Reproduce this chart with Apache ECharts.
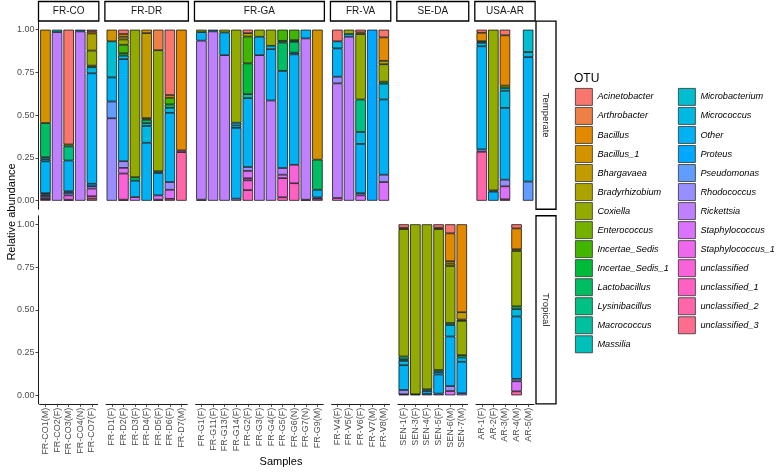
<!DOCTYPE html>
<html><head><meta charset="utf-8">
<script src="https://cdn.jsdelivr.net/npm/echarts@6/dist/echarts.min.js"></script>
<style>html,body{margin:0;padding:0;background:#fff}#c{width:778px;height:472px}</style>
</head><body><div id="c"></div>
<script>
const OTUS = ['Acinetobacter','Arthrobacter','Bacillus','Bacillus_1','Bhargavaea','Bradyrhizobium','Coxiella','Enterococcus','Incertae_Sedis','Incertae_Sedis_1','Lactobacillus','Lysinibacillus','Macrococcus','Massilia','Microbacterium','Micrococcus','Other','Proteus','Pseudomonas','Rhodococcus','Rickettsia','Staphylococcus','Staphylococcus_1','unclassified','unclassified_1','unclassified_2','unclassified_3'];
const FACETS = ['FR-CO','FR-DR','FR-GA','FR-VA','SE-DA','USA-AR'];
const ROWS = ['Temperate','Tropical'];
const Y_TICKS = [0, 0.25, 0.5, 0.75, 1];

const samplesCO = ['FR-CO1(M)','FR-CO2(F)','FR-CO3(M)','FR-CO4(N)','FR-CO7(F)'];
const climateCO = ['Temperate','Temperate','Temperate','Temperate','Temperate'];
const abundCO = [
  {Bacillus_1:0.546, Lactobacillus:0.20, Microbacterium:0.012, Micrococcus:0.012, Other:0.186, Proteus:0.008, Pseudomonas:0.008, Rhodococcus:0.01, Rickettsia:0.009, unclassified:0.009},
  {Massilia:0.014, Rickettsia:0.986},
  {Acinetobacter:0.671, Enterococcus:0.012, Lysinibacillus:0.082, Other:0.18, Proteus:0.01, Rhodococcus:0.014, Staphylococcus_1:0.025, unclassified_3:0.006},
  {Other:0.01, Rickettsia:0.99},
  {Acinetobacter:0.01, Bacillus:0.012, Bradyrhizobium:0.10, Coxiella:0.088, Lactobacillus:0.01, Micrococcus:0.035, Other:0.646, Proteus:0.014, Rhodococcus:0.014, Staphylococcus:0.045, unclassified:0.014, unclassified_3:0.012}
];

const samplesDR = ['FR-D1(F)','FR-D2(F)','FR-D3(F)','FR-D4(F)','FR-D5(F)','FR-D6(F)','FR-D7(M)'];
const climateDR = ['Temperate','Temperate','Temperate','Temperate','Temperate','Temperate','Temperate'];
const abundDR = [
  {Bacillus_1:0.068, Microbacterium:0.211, Other:0.141, Pseudomonas:0.098, Rhodococcus:0.482},
  {Acinetobacter:0.025, Bacillus:0.016, Bradyrhizobium:0.016, Coxiella:0.031, Incertae_Sedis:0.05, Incertae_Sedis_1:0.014, Micrococcus:0.02, Other:0.597, Rhodococcus:0.039, Staphylococcus:0.033, unclassified:0.153, unclassified_3:0.006},
  {Coxiella:0.863, Lactobacillus:0.02, Other:0.096, Staphylococcus:0.021},
  {Bacillus_1:0.02, Bhargavaea:0.497, Enterococcus:0.01, Lactobacillus:0.02, Microbacterium:0.016, Micrococcus:0.098, Other:0.339},
  {Arthrobacter:0.12, Coxiella:0.708, Micrococcus:0.01, Other:0.131, Staphylococcus:0.025, unclassified_3:0.006},
  {Acinetobacter:0.382, Bacillus:0.016, Incertae_Sedis:0.039, Lactobacillus:0.02, Micrococcus:0.029, Other:0.405, Rhodococcus:0.045, Staphylococcus:0.053, unclassified_3:0.011},
  {Bacillus:0.706, Staphylococcus_1:0.01, unclassified_2:0.284}
];

const samplesGA = ['FR-G1(F)','FR-G11(F)','FR-G13(F)','FR-G14(F)','FR-G2(F)','FR-G3(F)','FR-G4(F)','FR-G5(F)','FR-G6(N)','FR-G7(N)','FR-G9(M)'];
const climateGA = ['Temperate','Temperate','Temperate','Temperate','Temperate','Temperate','Temperate','Temperate','Temperate','Temperate','Temperate'];
const abundGA = [
  {Coxiella:0.014, Other:0.05, Rickettsia:0.93, unclassified:0.006},
  {Other:0.01, Rickettsia:0.99},
  {Coxiella:0.016, Other:0.133, Rickettsia:0.851},
  {Coxiella:0.544, Microbacterium:0.016, Micrococcus:0.014, Other:0.414, Rhodococcus:0.012},
  {Acinetobacter:0.02, Bradyrhizobium:0.02, Incertae_Sedis:0.157, Incertae_Sedis_1:0.18, Macrococcus:0.023, Other:0.403, Rhodococcus:0.023, Staphylococcus:0.043, Staphylococcus_1:0.012, unclassified:0.057, unclassified_1:0.062},
  {Coxiella:0.041, Other:0.108, Rickettsia:0.851},
  {Coxiella:0.094, Micrococcus:0.02, Other:0.30, Rickettsia:0.586},
  {Incertae_Sedis:0.065, Incertae_Sedis_1:0.01, Lactobacillus:0.166, Other:0.568, Rickettsia:0.039, Staphylococcus:0.02, unclassified:0.112, unclassified_1:0.02},
  {Incertae_Sedis:0.061, Incertae_Sedis_1:0.01, Lactobacillus:0.063, Micrococcus:0.01, Other:0.646, unclassified:0.108, unclassified_1:0.102},
  {Other:0.051, Rickettsia:0.943, unclassified:0.006},
  {Bacillus_1:0.76, Lactobacillus:0.176, Other:0.045, Rhodococcus:0.008, unclassified:0.011}
];

const samplesVA = ['FR-V4(F)','FR-V5(F)','FR-V6(F)','FR-V7(M)','FR-V8(M)'];
const climateVA = ['Temperate','Temperate','Temperate','Temperate','Temperate'];
const abundVA = [
  {Acinetobacter:0.068, Micrococcus:0.041, Other:0.166, Rhodococcus:0.039, Rickettsia:0.67, unclassified:0.016},
  {Coxiella:0.025, Micrococcus:0.016, Rickettsia:0.959},
  {Acinetobacter:0.016, Bacillus:0.01, Coxiella:0.382, Lysinibacillus:0.19, Micrococcus:0.07, Other:0.288, Rhodococcus:0.013, Staphylococcus:0.031},
  {Proteus:1.0},
  {Acinetobacter:0.045, Bacillus:0.137, Bradyrhizobium:0.02, Coxiella:0.102, Lactobacillus:0.012, Micrococcus:0.092, Other:0.44, Rhodococcus:0.043, Staphylococcus:0.109}
];

const samplesSE = ['SEN-1(F)','SEN-3(F)','SEN-4(F)','SEN-5(F)','SEN-6(M)','SEN-7(M)'];
const climateSE = ['Tropical','Tropical','Tropical','Tropical','Tropical','Tropical'];
const abundSE = [
  {Acinetobacter:0.02, Bacillus:0.008, Coxiella:0.745, Lysinibacillus:0.016, Microbacterium:0.01, Micrococcus:0.025, Other:0.145, Rhodococcus:0.025, unclassified_3:0.006},
  {Coxiella:0.994, Other:0.006},
  {Coxiella:0.965, Micrococcus:0.01, Other:0.016, Rhodococcus:0.009},
  {Acinetobacter:0.02, Bacillus:0.008, Coxiella:0.824, Lactobacillus:0.012, Micrococcus:0.014, Other:0.112, Rhodococcus:0.01},
  {Acinetobacter:0.053, Bacillus:0.163, Bhargavaea:0.014, Bradyrhizobium:0.014, Coxiella:0.333, Lactobacillus:0.012, Micrococcus:0.067, Other:0.29, Rhodococcus:0.029, Staphylococcus:0.025},
  {Bacillus:0.514, Bhargavaea:0.043, Bradyrhizobium:0.008, Coxiella:0.2, Lactobacillus:0.014, Micrococcus:0.025, Other:0.184, Rhodococcus:0.012}
];

const samplesAR = ['AR-1(F)','AR-2(F)','AR-3(M)','AR-4(M)','AR-5(M)'];
const climateAR = ['Temperate','Temperate','Temperate','Tropical','Temperate'];
const abundAR = [
  {Acinetobacter:0.018, Bacillus:0.049, Massilia:0.01, Micrococcus:0.02, Other:0.603, Rhodococcus:0.014, unclassified_2:0.286},
  {Coxiella:0.94, Micrococcus:0.007, Other:0.053},
  {Acinetobacter:0.033, Bacillus:0.294, Enterococcus:0.014, Microbacterium:0.016, Micrococcus:0.1, Other:0.42, Rhodococcus:0.039, Staphylococcus:0.076, unclassified_3:0.008},
  {Acinetobacter:0.024, Bacillus:0.122, Bradyrhizobium:0.01, Coxiella:0.324, Lactobacillus:0.016, Micrococcus:0.043, Other:0.365, Rhodococcus:0.014, Staphylococcus:0.059, unclassified_2:0.023},
  {Microbacterium:0.131, Micrococcus:0.029, Other:0.728, Pseudomonas:0.112}
];

const COLUMNS = [
  {samples: samplesCO, climate: climateCO, abund: abundCO},
  {samples: samplesDR, climate: climateDR, abund: abundDR},
  {samples: samplesGA, climate: climateGA, abund: abundGA},
  {samples: samplesVA, climate: climateVA, abund: abundVA},
  {samples: samplesSE, climate: climateSE, abund: abundSE},
  {samples: samplesAR, climate: climateAR, abund: abundAR}
];

// ggplot2 default hue palette (hcl, c=100, l=65)
function hcl(h, c, l) {
  const hr = h * Math.PI / 180;
  const U = c * Math.cos(hr), V = c * Math.sin(hr);
  const Xn = 95.047, Yn = 100, Zn = 108.883;
  const den = Xn + 15 * Yn + 3 * Zn;
  const un = 4 * Xn / den, vn = 9 * Yn / den;
  const Y = Yn * (l > 8 ? Math.pow((l + 16) / 116, 3) : l / 903.3);
  const u = U / (13 * l) + un, v = V / (13 * l) + vn;
  const X = 9 * Y * u / (4 * v);
  const Z = 3 * Y / v - X / 3 - 5 * Y;
  const lin = [
    (3.240479 * X - 1.537150 * Y - 0.498535 * Z) / 100,
    (-0.969256 * X + 1.875992 * Y + 0.041556 * Z) / 100,
    (0.055648 * X - 0.204043 * Y + 1.057311 * Z) / 100
  ];
  return '#' + lin.map(t => {
    let g = t <= 0.0031308 ? 12.92 * t : 1.055 * Math.pow(t, 1 / 2.4) - 0.055;
    g = Math.max(0, Math.min(1, g));
    return Math.round(g * 255).toString(16).padStart(2, '0');
  }).join('');
}
const COLORS = OTUS.map((_, i) => hcl(15 + i * 360 / OTUS.length, 100, 65));

const FONT = 'Liberation Sans, Arial, sans-serif';
const U = 11.6, GAP = 6.06, X0 = 38.5;
const PANEL_TOP = [21.15, 215.75], PANEL_H = 188.1;

const grids = [], xAxes = [], yAxes = [], series = [], graphics = [];
let x = X0;
COLUMNS.forEach((col, c) => {
  const n = col.samples.length;
  const pw = (n + 0.2) * U;
  graphics.push({type: 'rect', shape: {x: x, y: 1.5, width: pw, height: 19.5},
    style: {fill: '#fff', stroke: '#000', lineWidth: 1.3}});
  graphics.push({type: 'text', x: x + pw / 2, y: 11.5,
    style: {text: FACETS[c], fontSize: 10, fontFamily: FONT, fill: '#1A1A1A',
      align: 'center', verticalAlign: 'middle', textAlign: 'center', textVerticalAlign: 'middle'}});
  ROWS.forEach((row, r) => {
    const gi = grids.length;
    grids.push({left: x + 0.1 * U, width: n * U, top: PANEL_TOP[r], height: PANEL_H});
    xAxes.push({gridIndex: gi, type: 'category', data: col.samples,
      axisLine: {show: r === 1, onZero: false, lineStyle: {color: '#000', width: 0.9}},
      axisTick: {show: r === 1, alignWithLabel: true, length: 3, lineStyle: {color: '#333', width: 0.9}},
      axisLabel: {show: r === 1, rotate: 90, interval: 0, fontSize: 9, fontFamily: FONT, color: '#4D4D4D', margin: 4},
      splitLine: {show: false}});
    yAxes.push({gridIndex: gi, type: 'value', min: -0.05, max: 1.05, show: c === 0, offset: 0.1 * U,
      axisLine: {show: true, onZero: false, lineStyle: {color: '#000', width: 0.9}},
      axisTick: {show: true, length: 3, customValues: Y_TICKS, lineStyle: {color: '#333', width: 0.9}},
      axisLabel: {show: true, customValues: Y_TICKS, formatter: v => v.toFixed(2), fontSize: 9, fontFamily: FONT, color: '#4D4D4D', margin: 4},
      splitLine: {show: false}});
    const hasData = col.climate.some(cl => cl === row);
    if (!hasData) return;
    for (let k = OTUS.length - 1; k >= 0; k--) {
      const name = OTUS[k];
      series.push({type: 'bar', name: name, xAxisIndex: gi, yAxisIndex: gi, stack: 'g' + gi,
        barCategoryGap: '10%',
        data: col.samples.map((s, i) => (col.climate[i] === row && col.abund[i][name] != null) ? col.abund[i][name] : '-'),
        itemStyle: {color: COLORS[k], borderColor: '#000', borderWidth: 0.7},
        emphasis: {disabled: true}, silent: true});
    }
  });
  x += pw + GAP;
});

ROWS.forEach((row, r) => {
  graphics.push({type: 'rect', shape: {x: 536, y: PANEL_TOP[r], width: 20, height: PANEL_H},
    style: {fill: '#fff', stroke: '#000', lineWidth: 1.3}});
  graphics.push({type: 'text', x: 546, y: PANEL_TOP[r] + PANEL_H / 2, rotation: -Math.PI / 2,
    style: {text: row, fontSize: 9.5, fontFamily: FONT, fill: '#1A1A1A',
      align: 'center', verticalAlign: 'middle', textAlign: 'center', textVerticalAlign: 'middle'}});
});
graphics.push({type: 'text', x: 12, y: 212, rotation: Math.PI / 2,
  style: {text: 'Relative abundance', fontSize: 11, fontFamily: FONT, fill: '#000',
    align: 'center', verticalAlign: 'middle', textAlign: 'center', textVerticalAlign: 'middle'}});
graphics.push({type: 'text', x: 281, y: 462,
  style: {text: 'Samples', fontSize: 11, fontFamily: FONT, fill: '#000',
    align: 'center', verticalAlign: 'middle', textAlign: 'center', textVerticalAlign: 'middle'}});
graphics.push({type: 'text', x: 574, y: 78.5,
  style: {text: 'OTU', fontSize: 12, fontFamily: FONT, fill: '#000',
    align: 'left', verticalAlign: 'middle', textAlign: 'left', textVerticalAlign: 'middle'}});

const legendBase = {orient: 'vertical', top: 88, padding: 0, itemWidth: 17, itemHeight: 17, itemGap: 1.23,
  icon: 'rect', selectedMode: false,
  itemStyle: {borderColor: '#333', borderWidth: 0.8},
  textStyle: {fontStyle: 'italic', fontSize: 9.2, fontFamily: FONT, color: '#000', padding: [0, 0, 0, 0]}};

const chart = echarts.init(document.getElementById('c'), null, {renderer: 'canvas'});
chart.setOption({
  animation: false,
  backgroundColor: '#fff',
  grid: grids,
  xAxis: xAxes,
  yAxis: yAxes,
  legend: [
    Object.assign({}, legendBase, {left: 575, data: OTUS.slice(0, 14)}),
    Object.assign({}, legendBase, {left: 678, data: OTUS.slice(14)})
  ],
  graphic: graphics,
  series: series
});
</script></body></html>
